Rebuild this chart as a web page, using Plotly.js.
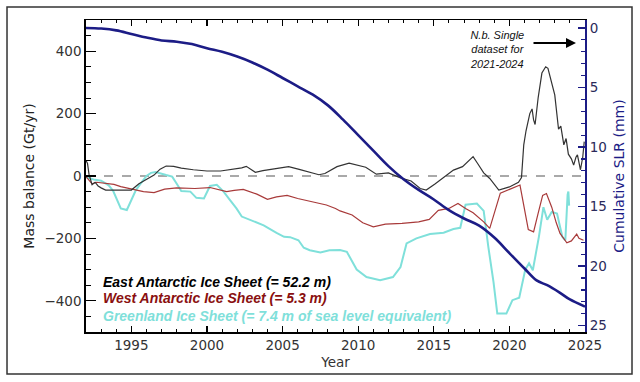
<!DOCTYPE html>
<html>
<head>
<meta charset="utf-8">
<script src="https://cdn.plot.ly/plotly-3.0.1.min.js"></script>
<style>html,body{margin:0;padding:0;background:#fff;}#chart{width:640px;height:382px;}</style>
</head>
<body>
<div id="chart"></div>
<script>
// East Antarctic Ice Sheet mass balance (Gt/yr)
const eaisYears = [1992.0,1992.1,1992.2,1992.4,1992.6,1992.8,1993.0,1993.3,1994.0,1995.0,1995.5,1996.0,1996.5,1996.9,1997.3,1997.8,1998.3,1999.1,2000.0,2000.9,2001.7,2002.3,2002.6,2003.2,2003.7,2004.2,2004.8,2005.4,2006.1,2006.7,2007.4,2007.8,2008.2,2008.6,2009.4,2010.0,2010.5,2011.2,2011.6,2012.0,2012.8,2013.5,2014.1,2014.5,2015.1,2015.7,2016.3,2016.9,2017.3,2017.6,2017.9,2018.3,2018.7,2019.3,2020.0,2020.6,2020.8,2020.95,2021.1,2021.35,2021.5,2021.6,2021.7,2021.9,2022.15,2022.4,2022.55,2022.8,2023.0,2023.25,2023.4,2023.6,2023.75,2023.9,2024.1,2024.25,2024.4,2024.5,2024.6,2024.7,2024.85,2024.95];
const eaisValues = [50,40,5,-28,-20,-32,-38,-45,-45,-45,-25,-12,3,22,32,31,25,20,16,16,21,26,31,12,17,21,25,30,21,13,4,8,20,30,41,35,28,6,7,10,-6,-16,-40,-45,-25,-2,19,30,48,62,40,10,-8,-45,-35,-20,-5,100,145,200,215,180,165,250,330,350,345,295,260,150,160,100,120,70,55,35,60,68,40,20,60,110];

// West Antarctic Ice Sheet mass balance (Gt/yr)
const waisYears = [1992.0,1992.2,1992.4,1992.7,1993.2,1993.85,1994.3,1995.0,1995.8,1996.5,1997.2,1998.0,1999.2,2000.2,2000.6,2001.3,2001.8,2002.4,2003.3,2004.0,2004.6,2005.3,2006.0,2006.6,2007.5,2007.9,2008.5,2008.8,2009.6,2010.3,2011.0,2011.8,2012.9,2014.0,2014.7,2015.3,2016.0,2016.6,2017.1,2017.6,2018.3,2018.7,2019.4,2020.0,2020.7,2021.25,2021.6,2021.9,2022.2,2022.45,2022.8,2023.1,2023.35,2023.8,2024.1,2024.45,2024.6,2024.9];
const waisValues = [-2,-15,-25,-20,-24,-27,-34,-42,-50,-53,-42,-38,-40,-37,-42,-50,-46,-43,-58,-75,-67,-62,-72,-79,-88,-93,-104,-112,-125,-150,-163,-154,-152,-147,-139,-110,-104,-88,-104,-118,-147,-168,-55,-42,-29,-172,-179,-120,-62,-56,-100,-150,-184,-214,-208,-186,-200,-206];

// Greenland Ice Sheet mass balance (Gt/yr)
const gisYears = [1992.0,1992.5,1993.0,1993.5,1993.8,1994.1,1994.3,1994.7,1995.0,1995.3,1995.6,1996.0,1996.3,1996.6,1997.3,1997.7,1998.0,1998.3,1998.9,1999.3,1999.8,2000.2,2000.65,2001.1,2001.5,2001.95,2002.3,2002.85,2003.75,2004.6,2005.1,2005.5,2006.05,2006.4,2006.8,2007.5,2008.1,2008.8,2009.25,2009.9,2010.55,2011.45,2012.3,2012.8,2013.2,2013.85,2014.75,2015.65,2016.3,2016.75,2017.1,2017.85,2018.3,2018.6,2018.95,2019.2,2019.8,2020.2,2020.65,2021.05,2021.3,2021.55,2021.95,2022.25,2022.5,2022.8,2023.15,2023.5,2023.7,2023.85,2023.9,2023.95];
const gisValues = [-4,-11,-15,-30,-48,-80,-104,-109,-75,-45,-25,0,10,13,3,-2,-25,-48,-50,-70,-72,-32,-28,-50,-76,-104,-130,-140,-158,-182,-195,-196,-206,-230,-238,-245,-238,-237,-243,-300,-324,-334,-324,-292,-216,-200,-186,-182,-170,-166,-92,-88,-112,-225,-340,-441,-441,-398,-390,-300,-280,-302,-195,-100,-140,-115,-120,-195,-206,-60,-50,-95];

// Cumulative sea level rise (mm), right axis
const slrYears = [1992,1993,1994,1995,1996,1997,1998,1999,2000,2001,2002,2003,2004,2005,2006,2007,2008,2009,2010,2011,2012,2013,2014,2015,2016,2017,2018,2019,2020,2021,2021.8,2022.5,2023.3,2024,2025];
const slrValues = [0.0,0.05,0.2,0.5,0.8,1.05,1.15,1.35,1.7,2.0,2.4,2.9,3.5,4.2,4.9,5.6,6.5,7.7,9.0,10.3,11.6,12.7,13.6,14.4,15.3,16.0,16.6,17.6,18.9,20.2,21.2,21.6,22.2,22.8,23.4];

const legendLabels = [
  'East Antarctic Ice Sheet (= 52.2 m)',
  'West Antarctic Ice Sheet (= 5.3 m)',
  'Greenland Ice Sheet (= 7.4 m of sea level equivalent)'
];

const NAVY = '#1c1c86';
const TICKFONT = {family: 'DejaVu Sans, sans-serif', size: 13.5, color: '#333'};

const traces = [
  {x: gisYears, y: gisValues, type: 'scatter', mode: 'lines', line: {color: '#7fe0da', width: 2}, name: 'Greenland'},
  {x: waisYears, y: waisValues, type: 'scatter', mode: 'lines', line: {color: '#a83a3a', width: 1.2}, name: 'WAIS'},
  {x: eaisYears, y: eaisValues, type: 'scatter', mode: 'lines', line: {color: '#333333', width: 1.2}, name: 'EAIS'},
  {x: slrYears, y: slrValues, type: 'scatter', mode: 'lines', yaxis: 'y2', line: {color: NAVY, width: 2.6, shape: 'spline'}, name: 'SLR'}
];

const layout = {
  width: 640, height: 382,
  margin: {l: 86, r: 55, t: 20, b: 50},
  paper_bgcolor: '#fff', plot_bgcolor: '#fff',
  showlegend: false,
  xaxis: {
    range: [1992, 2025], tick0: 1995, dtick: 5,
    ticks: 'inside', ticklen: 6, tickwidth: 1.2, tickcolor: '#000',
    minor: {dtick: 1, tick0: 1992, ticks: 'inside', ticklen: 3, tickcolor: '#000', tickwidth: 1},
    showline: true, linecolor: '#000', linewidth: 1.5, mirror: 'ticks',
    showgrid: false, zeroline: false,
    tickfont: TICKFONT,
    title: {text: 'Year', font: {family: 'DejaVu Sans, sans-serif', size: 13.5, color: '#333'}, standoff: 6}
  },
  yaxis: {
    range: [-500, 500], dtick: 200, tick0: 0,
    ticks: 'inside', ticklen: 10, tickwidth: 1.2, tickcolor: '#000',
    minor: {dtick: 50, ticks: 'inside', ticklen: 5, tickcolor: '#000', tickwidth: 1},
    showline: true, linecolor: '#000', linewidth: 1.8,
    showgrid: false, zeroline: false,
    tickfont: TICKFONT,
    title: {text: 'Mass balance (Gt/yr)', font: {family: 'DejaVu Sans, sans-serif', size: 14, color: '#222'}, standoff: 6}
  },
  yaxis2: {
    overlaying: 'y', side: 'right', anchor: 'x',
    range: [25.53, -0.67], dtick: 5, tick0: 0,
    ticks: 'inside', ticklen: 7, tickwidth: 1.5, tickcolor: NAVY,
    minor: {dtick: 1, ticks: 'inside', ticklen: 4, tickcolor: NAVY, tickwidth: 1.2},
    showline: true, linecolor: NAVY, linewidth: 2,
    showgrid: false, zeroline: false,
    tickfont: {family: 'DejaVu Sans, sans-serif', size: 13.5, color: '#2a2a5a'},
    title: {text: 'Cumulative SLR (mm)', font: {family: 'DejaVu Sans, sans-serif', size: 14, color: NAVY}, standoff: 8}
  },
  shapes: [
    {type: 'line', xref: 'paper', x0: 0, x1: 1, yref: 'y', y0: 0, y1: 0, line: {color: '#555', width: 1.2, dash: 'dash'}, layer: 'below'},
    {type: 'rect', xref: 'paper', yref: 'paper', x0: -0.1583, x1: 1.0942, y0: -0.1346, y1: 1.0417, line: {color: '#333', width: 1.5}}
  ],
  annotations: [
    {xref: 'paper', yref: 'paper', x: 0.030, y: 0.161, xanchor: 'left', yanchor: 'middle', showarrow: false,
     text: legendLabels[0], font: {family: 'Liberation Sans, Arial, sans-serif', size: 14, color: '#000', weight: 'bold', style: 'italic'}},
    {xref: 'paper', yref: 'paper', x: 0.030, y: 0.109, xanchor: 'left', yanchor: 'middle', showarrow: false,
     text: legendLabels[1], font: {family: 'Liberation Sans, Arial, sans-serif', size: 14, color: '#8a1010', weight: 'bold', style: 'italic'}},
    {xref: 'paper', yref: 'paper', x: 0.030, y: 0.052, xanchor: 'left', yanchor: 'middle', showarrow: false,
     text: legendLabels[2], font: {family: 'Liberation Sans, Arial, sans-serif', size: 14, color: '#7fe0da', weight: 'bold', style: 'italic'}},
    {xref: 'paper', yref: 'paper', x: (497 - 86) / 499, y: (332 - 49) / 312, xanchor: 'center', yanchor: 'middle', showarrow: false,
     text: 'N.b. Single<br>dataset for<br>2021-2024', align: 'center',
     font: {family: 'Liberation Sans, Arial, sans-serif', size: 11, color: '#111', style: 'italic'}},
    {xref: 'paper', yref: 'paper', x: (576 - 86) / 499, y: (332 - 43) / 312, ax: -44, ay: 0, text: '', showarrow: true,
     arrowhead: 2, arrowsize: 1, arrowwidth: 2, arrowcolor: '#000'}
  ]
};

Plotly.newPlot('chart', traces, layout, {displayModeBar: false, staticPlot: true});
</script>
</body>
</html>
